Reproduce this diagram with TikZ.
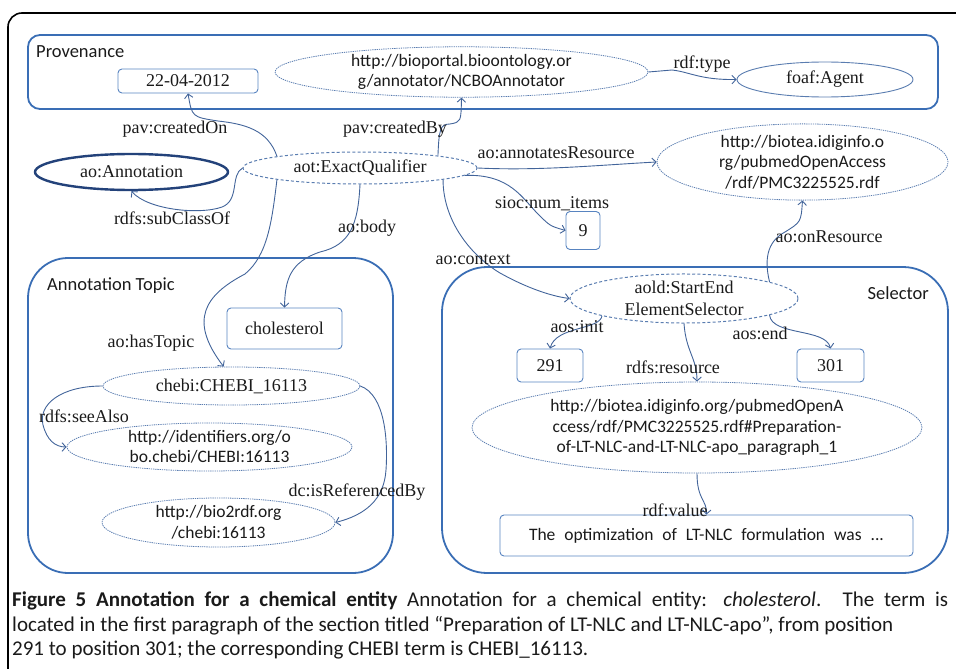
\documentclass[tikz,border=0pt]{standalone}
\usepackage{fontspec}
\setmainfont{Liberation Serif}
\setsansfont{Carlito}
\usetikzlibrary{shapes.geometric,arrows.meta}
\definecolor{grpblue}{HTML}{3A6EB5}
\definecolor{ellblue}{HTML}{5A7DB0}
\definecolor{arrblue}{HTML}{42649A}
\definecolor{navyann}{HTML}{23427A}
\definecolor{txt}{HTML}{1A1A1A}
\begin{document}
\begin{tikzpicture}[x=1pt,y=-1pt,
  every node/.style={text=txt},
  grp/.style={draw=grpblue, line width=1.8pt, rounded corners=#1, inner sep=0pt},
  grp/.default=12pt,
  grplbl/.style={anchor=west, inner sep=0pt, font=\sffamily\fontsize{18.5}{20}\selectfont},
  serifnode/.style={font=\fontsize{18}{22}\selectfont},
  sansnode/.style={font=\sffamily\fontsize{17.5}{20.5}\selectfont, align=center},
  litbox/.style={draw=grpblue!85, line width=0.9pt, rounded corners=4pt, inner sep=0pt, serifnode},
  dell/.style={ellipse, draw=ellblue, dash pattern=on 3pt off 2.2pt, line width=1pt, inner sep=0pt},
  dotell/.style={ellipse, draw=ellblue, dash pattern=on 1.3pt off 0.9pt, line width=0.8pt, inner sep=0pt},
  lbl/.style={inner sep=0pt, font=\fontsize{18}{20}\selectfont},
  conn/.style={draw=arrblue, line width=0.9pt, -{Straight Barb[length=4pt,width=8.5pt]}},
  capline/.style={anchor=base west, inner sep=0pt, font=\sffamily\fontsize{21}{24}\selectfont}
]
\useasboundingbox (0,0) rectangle (956,669);
% outer frame
\draw[line width=1.6pt, rounded corners=14pt] (8,720) -- (8,13) -- (1000,13);

% ---------- Provenance ----------
\node[grp=12pt, minimum width=910pt, minimum height=74pt] (prov) at (483,72) {};
\node[grplbl] (provlbl) at (36,52) {Provenance};
\node[litbox, minimum width=140pt, minimum height=24pt] (date) at (188,81) {22-04-2012};
\node[dotell, sansnode, minimum width=373pt, minimum height=50pt] (ncbo) at (461.5,72) {http://bioportal.bioontology.or\\g/annotator/NCBOAnnotator};
\node[ellipse, draw=ellblue, line width=0.9pt, inner sep=0pt, serifnode, minimum width=176pt, minimum height=35pt] (foaf) at (825,79.5) {foaf:Agent};

% ---------- middle ----------
\node[dell, serifnode, minimum width=234pt, minimum height=32pt] (qual) at (360,168) {aot:ExactQualifier};
\node[ellipse, draw=navyann, line width=2.4pt, inner sep=0pt, serifnode, minimum width=193pt, minimum height=36pt] (annot) at (131.5,172) {ao:Annotation};
\node[dotell, sansnode, minimum width=291pt, minimum height=71pt] (pmc) at (802.5,162) {http://biotea.idiginfo.o\\rg/pubmedOpenAccess\\/rdf/PMC3225525.rdf};
\node[litbox, minimum width=34pt, minimum height=38pt] (nine) at (583,230.5) {9};

% ---------- Annotation Topic ----------
\node[grp=40pt, minimum width=365pt, minimum height=315pt] (topic) at (210.5,415.5) {};
\node[grplbl] (topiclbl) at (47,286) {Annotation Topic};
\node[litbox, minimum width=115pt, minimum height=41pt] (chol) at (284.5,328.5) {cholesterol};
\node[dotell, serifnode, minimum width=257pt, minimum height=38pt] (chebi) at (231.5,386) {chebi:CHEBI\_16113};
\node[dotell, sansnode, minimum width=285pt, minimum height=48pt] (ident) at (209.5,447) {http://identifiers.org/o\\bo.chebi/CHEBI:16113};
\node[dotell, sansnode, minimum width=233pt, minimum height=49pt] (bio) at (218.5,522.5) {http://bio2rdf.org\\/chebi:16113};

% ---------- Selector ----------
\node[grp=45pt, minimum width=506pt, minimum height=306pt] (sel) at (695,420) {};
\node[grplbl, anchor=east] (sellbl) at (929,293) {Selector};
\node[dell, serifnode, align=center, minimum width=228pt, minimum height=47pt] (se) at (684,298.5) {aold:StartEnd\\ElementSelector};
\node[litbox, minimum width=66pt, minimum height=33pt] (n291) at (550,365.5) {291};
\node[litbox, minimum width=67pt, minimum height=33pt] (n301) at (830.5,365.5) {301};
\node[dotell, sansnode, minimum width=450pt, minimum height=91pt] (frag) at (697,427.5) {http://biotea.idiginfo.org/pubmedOpenA\\ccess/rdf/PMC3225525.rdf\#Preparation-\\of-LT-NLC-and-LT-NLC-apo\_paragraph\_1};
\node[litbox, sansnode, minimum width=413pt, minimum height=41pt] (val) at (706.5,535.5) {\makebox[355pt][s]{The optimization of LT-NLC formulation was ...}};

% ---------- connectors ----------
\draw[conn] (qual.172) .. controls (268,130) and (245,124) .. (218,121) .. controls (192,117) .. (date.south);
\draw[conn] (qual.9) .. controls (439,130) and (440,124) .. (450,124) .. controls (461,122) .. (ncbo.south);
\draw[conn] (ncbo.east) -- (672,70) .. controls (690,72) and (700,80) .. (foaf.west);
\draw[conn] (qual.west) .. controls (230,175) and (240,200) .. (222,207) .. controls (200,215) and (148,210) .. (annot.south);
\draw[conn] (qual.east) .. controls (540,171) and (600,165) .. (pmc.west);
\draw[conn] (qual.-4) .. controls (510,174) and (522,198) .. (538,214) .. controls (550,226) .. (nine.west);
\draw[conn] (qual.-8) .. controls (443,220) and (470,255) .. (500,273) .. controls (525,287) and (550,296) .. (se.west);
\draw[conn] (se.11) .. controls (763,255) and (770,240) .. (785,232) .. controls (801,222) .. (pmc.south);
\draw[conn] (qual.south) .. controls (358,225) and (350,245) .. (320,252) .. controls (290,262) and (285,280) .. (chol.north);
\draw[conn] (qual.188) .. controls (272,220) and (268,255) .. (245,274) .. controls (205,295) and (188,320) .. (chebi.112);
\draw[conn] (chebi.west) .. controls (60,386) and (38,405) .. (43,425) .. controls (47,440) and (55,447) .. (ident.west);
\draw[conn] (chebi.east) .. controls (385,395) and (388,440) .. (386,470) .. controls (384,500) and (365,515) .. (bio.east);
\draw[conn] (se.192) .. controls (600,330) and (556,326) .. (n291.north);
\draw[conn] (se.-11) .. controls (772,336) and (826,328) .. (n301.north);
\draw[conn] (se.south) .. controls (686,352) and (697,358) .. (frag.north);
\draw[conn] (frag.south) .. controls (697,500) and (707,500) .. (val.north);

% ---------- edge labels ----------
\node[lbl] (l1) at (175,129) {pav:createdOn};
\node[lbl] (l2) at (395,129) {pav:createdBy};
\node[lbl] (l3) at (702,64) {rdf:type};
\node[lbl] (l4) at (172,218) {rdfs:subClassOf};
\node[lbl] (l5) at (367,228) {ao:body};
\node[lbl] (l6) at (556,153) {ao:annotatesResource};
\node[lbl] (l7) at (552,204) {sioc:num\_items};
\node[lbl] (l8) at (473,260) {ao:context};
\node[lbl] (l9) at (829,237) {ao:onResource};
\node[lbl] (l10) at (151,343) {ao:hasTopic};
\node[lbl] (l11) at (84,416) {rdfs:seeAlso};
\node[lbl] (l12) at (357,492) {dc:isReferencedBy};
\node[lbl] (l13) at (577,327) {aos:init};
\node[lbl] (l14) at (760,333) {aos:end};
\node[lbl] (l15) at (673,367) {rdfs:resource};
\node[lbl] (l16) at (675,510) {rdf:value};

% ---------- caption ----------
\node[capline] (cap1) at (12,606) {\makebox[936pt][s]{\textbf{Figure 5 Annotation for a chemical entity} Annotation for a chemical entity: \textit{cholesterol}. The term is}};
\node[capline] (cap2) at (12,631) {located in the first paragraph of the section titled “Preparation of LT-NLC and LT-NLC-apo”, from position};
\node[capline] (cap3) at (12,655) {291 to position 301; the corresponding CHEBI term is CHEBI\_16113.};
\end{tikzpicture}
\end{document}
